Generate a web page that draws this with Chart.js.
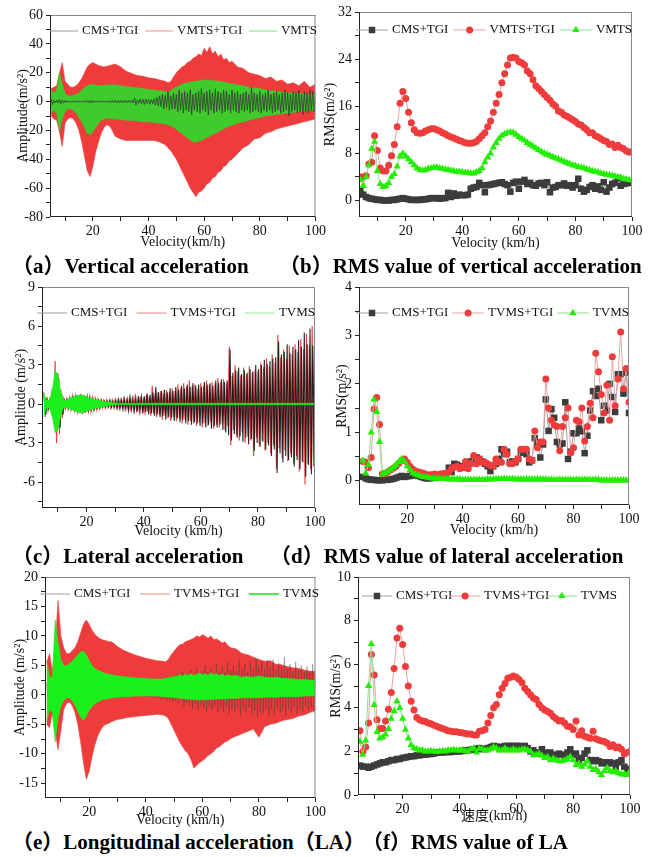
<!DOCTYPE html>
<html>
<head>
<meta charset="utf-8">
<script src="https://cdn.jsdelivr.net/npm/chart.js@4.4.0/dist/chart.umd.min.js"></script>
<style>
body{margin:0;background:#fff;width:656px;height:857px;position:relative;overflow:hidden}
canvas{position:absolute}
.cap{position:absolute;font:bold 21px 'Liberation Serif','Noto Sans CJK SC',serif;white-space:nowrap;color:#000;line-height:24px}
</style>
</head>
<body>
<canvas id="ca" width="328" height="252" style="left:0;top:0"></canvas>
<canvas id="cb" width="338" height="252" style="left:318px;top:0"></canvas>
<canvas id="cc" width="328" height="270" style="left:0;top:275px"></canvas>
<canvas id="cd" width="338" height="270" style="left:318px;top:275px"></canvas>
<canvas id="ce" width="328" height="265" style="left:0;top:565px"></canvas>
<canvas id="cf" width="338" height="265" style="left:318px;top:565px"></canvas>
<div class="cap" style="left:12px;top:254px">（a）Vertical acceleration</div>
<div class="cap" style="left:279px;top:254px">（b）RMS value of vertical acceleration</div>
<div class="cap" style="left:12px;top:544px">（c）Lateral acceleration</div>
<div class="cap" style="left:270px;top:544px">（d）RMS value of lateral acceleration</div>
<div class="cap" style="left:12px;top:830px">（e）Longitudinal acceleration（LA）</div>
<div class="cap" style="left:362px;top:830px">（f）RMS value of LA</div>
<script>
// series names
var seriesV = ["CMS+TGI", "VMTS+TGI", "VMTS"];
var seriesT = ["CMS+TGI", "TVMS+TGI", "TVMS"];

// velocity grids (km/h)
var speeds = [4,5,6,7,8,9,10,11,12,13,14,15,16,17,18,19,20,21,22,23,24,25,26,27,28,29,30,31,32,33,34,35,36,37,38,39,40,41,42,43,44,45,46,47,48,49,50,51,52,53,54,55,56,57,58,59,60,61,62,63,64,65,66,67,68,69,70,71,72,73,74,75,76,77,78,79,80,81,82,83,84,85,86,87,88,89,90,91,92,93,94,95,96,97,98,99,100];
var speeds5 = speeds.slice(1);
var bandSpeed = [5,6,7,8,9,10,11,12,13,14,15,16,17,18,19,20,21,22,23,24,25,26,27,28,
  30,32,34,36,38,40,42,44,46,
  47,48,49,50,51,52,53,54,55,56,57,58,59,60,61,62,63,64,65,66,67,68,69,70,
  72,74,76,78,80,82,84,86,88,90,92,94,96,98,100];

// axis ticks
var xTicks = [10,20,30,40,50,60,70,80,90,100];
var xLabels = [20,40,60,80,100];
var aYTicks = [-80,-70,-60,-50,-40,-30,-20,-10,0,10,20,30,40,50,60];
var aYLabels = [-80,-60,-40,-20,0,20,40,60];
var bYTicks = [0,4,8,12,16,20,24,28,32];
var bYLabels = [0,8,16,24,32];
var cYTicks = [-7.5,-6,-4.5,-3,-1.5,0,1.5,3,4.5,6,7.5,9];
var cYLabels = [-6,-3,0,3,6,9];
var dYTicks = [0,0.5,1,1.5,2,2.5,3,3.5,4];
var dYLabels = [0,1,2,3,4];
var eYTicks = [-15,-12.5,-10,-7.5,-5,-2.5,0,2.5,5,7.5,10,12.5,15,17.5,20];
var eYLabels = [-15,-10,-5,0,5,10,15,20];
var fYTicks = [0,1,2,3,4,5,6,7,8,9,10];
var fYLabels = [0,2,4,6,8,10];

// (a) vertical acceleration envelopes
var aRedHi = [9,10,11,20,27,14,12,10,10,11,13,16,20,24,26,27,26,25,24.5,24,24.5,25,25.5,26,
  24,21,19.5,18,17.5,16.5,16,15,14,
  13,14,17,20,22,24,25,27,28,30,31,33,32,37,34,38,33,35,31,33,29,30,27,28,
  24,23,20,19,18,16,17,14,15,12,13,11,14,10,12];
var aRedLo = [-10,-12,-13,-21,-31,-15,-12,-11,-12,-15,-20,-28,-38,-48,-52,-45,-35,-28,-22,-18,-16,-17,-20,-24,
  -26,-27,-27,-27,-27,-27,-27,-28,-30,
  -32,-34,-37,-40,-44,-48,-52,-56,-60,-63,-66,-63,-62,-60,-57,-56,-53,-52,-49,-48,-45,-44,-41,-40,
  -36,-32,-30,-26,-25,-22,-21,-19,-18,-17,-16,-15,-14,-13,-12];
var aGreenHi = [8,6,8,20,12,6,4,4,4.5,5,6,8,9.5,11,11.5,12,11.5,11,11,11,11.5,11.5,11.5,11.5,
  11,10.5,10,9.5,9,8.5,8,7.5,7,
  6.5,7.5,9,10,11,12,12.5,13,13.5,14,14,14.5,14.5,15,15,15,14.5,14.5,14,14,13.5,13,12.5,12.5,
  11.5,11,10,9.5,9,8,7.5,7,6.5,6,6,5.5,5.5,5,5];
var aGreenLo = [-8,-6,-8,-20,-12,-7,-5,-5,-6,-8,-11,-14,-18,-22,-23,-21,-18,-15,-13,-12,-11.5,-11.5,-12,-12,
  -12.5,-13,-13,-13.5,-14,-14,-14.5,-15,-15.5,
  -16,-17,-18,-19,-21,-22,-24,-25,-26.5,-28,-28,-27.5,-27,-26,-25,-24,-23,-22,-21,-20,-19,-18,-17,-16.5,
  -15,-14,-13,-12,-11,-10,-9.5,-9,-8.5,-8,-7.5,-7,-6.5,-6,-6];
var aGrayHi = [2,1,1,1.5,1,0.8,0.5,0.5,0.5,0.5, 0.5,0.5,0.6,0.7,0.8,0.7,0.5,0.5,0.5,0.5,
  0.5,0.6,0.7,0.8,0.8,0.8,0.7,0.7,0.8,1, 2.5,1.2,1.8,1.5,1.7,1.5,1.5,2,3,4,
  5,4.5,7,4,6,5,8,6,7,6, 8,5,6,7,9,6,7,8,6,9, 7,6,8,7,5,8,6,7,5,6,
  7,5,10,6,5,7,5,6,8,5, 6,7,5,6,8,6,5,7,6,8, 5,7,6,8,7,6];
var aGrayLo = [-2,-1,-1,-1.5,-1,-0.8,-0.5,-0.5,-0.5,-0.5, -0.5,-0.5,-0.6,-0.7,-0.8,-0.7,-0.5,-0.5,-0.5,-0.5,
  -0.5,-0.6,-0.7,-0.8,-0.8,-0.8,-0.7,-0.7,-0.8,-1, -2.5,-1.2,-1.5,-2,-1.5,-1.8,-1.5,-2.5,-3,-3.5,
  -5,-4,-6,-5,-5,-7,-6,-8,-6,-7, -9,-6,-7,-8,-6,-7,-9,-6,-8,-7, -6,-8,-7,-6,-8,-6,-7,-8,-6,-7,
  -6,-8,-7,-6,-7,-8,-6,-7,-6,-8, -7,-6,-8,-7,-6,-10,-7,-6,-8,-7, -9,-7,-8,-6,-7,-5];

// (b) RMS of vertical acceleration
var bGray = [1.8,1.0,0.6,0.4,0.3,0.2,0.1,0.1,0.0,0.0, 0.0,0.1,0.1,0.2,0.3,0.4,0.3,0.2,0.1,0.1,
  0.1,0.1,0.2,0.2,0.3,0.4,0.4,0.4,0.3,0.4, 0.4,1.3,0.6,1.2,0.8,1.0,0.9,0.9,1.0,2.0,
  2.2,2.3,3.0,2.6,1.4,2.6,2.7,2.8,2.9,3.0, 3.1,2.8,2.6,1.5,3.0,3.2,2.0,3.2,3.5,2.8,
  3.0,2.6,2.5,2.9,3.0,2.6,3.1,1.4,2.2,2.3, 2.6,2.6,2.9,2.5,2.6,2.2,2.6,3.7,2.0,1.5,
  1.8,2.3,2.6,2.0,2.4,1.8,3.1,1.5,2.2,2.8, 3.0,3.8,2.5,2.8,2.9,3.2,3.0];
var bRed = [4.0,4.0,4.2,6.2,6.5,11.0,8.5,5.5,5.0,5.0, 6.0,7.6,9.5,12.5,16.5,18.5,17.3,15.0,13.2,12.0,
  11.5,11.4,11.5,11.8,12.0,12.2,12.2,12.0,11.8,11.5, 11.3,11.0,10.8,10.6,10.4,10.2,10.0,9.8,9.7,9.7,
  9.8,10.0,10.5,11.0,11.5,12.5,13.5,15.0,16.5,18.0, 20.0,21.5,23.0,24.2,24.3,24.2,23.6,23.4,23.0,22.0,
  21.5,20.5,19.5,19.0,18.5,18.0,17.5,17.0,16.4,16.0, 15.2,15.0,14.5,14.3,14.0,13.7,13.4,13.0,12.8,12.4,
  12.0,11.5,11.5,11.0,10.8,10.5,10.2,10.0,9.5,9.6, 9.0,9.4,9.0,8.8,8.4,8.2,8.3];
var bGreen = [3.5,2.5,4.0,6.0,8.8,10.0,5.0,2.8,2.3,2.5, 3.0,4.0,4.5,5.8,7.5,8.0,7.5,7.0,6.5,6.0,
  5.5,5.2,5.1,5.2,5.4,5.5,5.6,5.6,5.5,5.4, 5.3,5.2,5.1,5.0,4.9,4.9,4.8,4.7,4.7,4.6,
  4.6,4.8,5.0,5.5,6.5,7.3,8.0,9.0,9.8,10.5, 11.0,11.3,11.5,11.6,11.5,11.2,10.8,10.5,10.2,9.8,
  9.5,9.2,8.9,8.6,8.3,8.0,7.8,7.6,7.4,7.2, 7.0,6.8,6.6,6.4,6.2,6.0,5.9,5.7,5.6,5.5,
  5.3,5.2,5.0,4.9,4.8,4.6,4.5,4.4,4.3,4.2, 4.1,4.0,3.9,3.7,3.6,3.5,3.4];

// (c) lateral acceleration
var cRedHi = [0.9,0.5,0.3,1.2,3.3,2.4,1.1,0.35,0.35,0.45, 0.55,0.65,0.7,0.78,0.7,0.6,0.5,0.45,0.4,0.35,
  0.3,0.25,0.3,0.25,0.3,0.3,0.25,0.3,0.35,0.3, 0.45,0.4,0.5,0.4,0.6,0.5,0.7,0.6,1.4,0.8,
  0.9,1.0,0.8,1.1,0.9,1.2,1.0,1.5,1.2,1.6, 1.3,1.8,1.4,1.5,1.2,1.6,1.4,1.8,1.5,1.7,
  1.6,2.0,1.7,1.9,1.6,4.4,2.2,3.0,2.5,2.2, 2.8,2.3,2.9,2.4,2.6,2.5,3.2,2.8,3.5,2.9,
  3.8,3.2,5.3,3.6,4.2,3.5,4.5,3.8,4.6,4.0, 5.0,4.2,5.4,4.5,6.0,4.8];
var cRedLo = [-1.0,-0.5,-0.3,-1.2,-3.0,-2.3,-1.1,-0.35,-0.35,-0.4, -0.5,-0.6,-0.7,-0.78,-0.7,-0.6,-0.5,-0.45,-0.4,-0.35,
  -0.3,-0.3,-0.25,-0.3,-0.25,-0.3,-0.35,-0.3,-0.4,-0.35, -0.4,-0.5,-0.45,-0.6,-0.5,-0.8,-0.6,-0.9,-0.7,-1.0,
  -0.8,-1.2,-0.9,-1.1,-1.3,-1.0,-1.3,-1.1,-1.5,-1.2, -1.6,-1.3,-1.5,-1.7,-1.4,-1.8,-1.5,-1.7,-1.4,-1.9,
  -1.6,-1.8,-1.5,-2.0,-1.7,-3.2,-2.0,-2.4,-2.8,-2.2, -3.0,-2.5,-2.8,-4.0,-2.6,-3.2,-2.8,-3.6,-3.0,-3.8,
  -3.2,-5.0,-3.4,-4.2,-3.6,-4.4,-3.8,-4.6,-4.0,-5.2, -4.4,-6.2,-4.6,-5.0,-4.8,-3.6];
var cBlackHi = [0.6,0.3,0.3,0.8,2.4,2.0,0.8,0.25,0.3,0.35, 0.45,0.55,0.6,0.65,0.6,0.5,0.4,0.35,0.3,0.25,
  0.25,0.2,0.2,0.25,0.2,0.3,0.35,0.3,0.4,0.35, 0.5,0.4,0.45,0.6,0.5,0.6,0.8,0.7,0.9,1.3,
  0.9,1.0,1.1,0.9,1.2,1.0,1.3,1.1,1.4,1.2, 1.5,1.3,1.6,1.4,1.5,1.3,1.7,1.5,1.6,1.4,
  1.8,1.6,1.9,1.7,1.8,4.2,2.4,2.6,2.8,2.3, 2.6,2.4,2.7,2.5,3.0,2.7,3.0,3.4,3.1,3.3,
  3.5,3.6,4.8,3.8,4.0,4.6,3.9,4.4,4.2,4.9, 4.4,5.5,4.6,5.8,4.5,5.0];
var cBlackLo = [-0.8,-0.3,-0.3,-0.8,-2.0,-1.8,-0.8,-0.25,-0.3,-0.3, -0.4,-0.5,-0.55,-0.65,-0.6,-0.5,-0.4,-0.35,-0.3,-0.25,
  -0.2,-0.2,-0.2,-0.25,-0.25,-0.3,-0.3,-0.4,-0.35,-0.5, -0.4,-0.5,-0.6,-0.5,-0.7,-0.6,-0.8,-0.7,-0.9,-0.8,
  -1.0,-0.9,-1.2,-1.0,-1.1,-1.3,-1.1,-1.4,-1.2,-1.5, -1.3,-1.6,-1.4,-1.5,-1.7,-1.5,-1.8,-1.6,-1.9,-1.7,
  -1.8,-1.6,-2.0,-2.2,-2.4,-2.8,-2.3,-2.6,-2.5,-2.9, -2.6,-3.1,-2.7,-3.6,-3.0,-3.3,-2.9,-3.5,-3.2,-4.0,
  -3.5,-5.3,-3.8,-4.5,-4.0,-4.3,-4.1,-4.8,-4.3,-5.0, -4.5,-5.6,-4.7,-5.4,-4.2,-3.5];
var cGreenSpeed = [5,6,7,8,9,10,11,12,13,14,15,16,17,18,19,20,21,22,23,24,25,26,27,28,29,30,31,100];
var cGreenHi = [0.8,0.3,0.3,1.0,2.6,2.2,0.9,0.25,0.3,0.4, 0.5,0.6,0.65,0.7,0.65,0.55,0.45,0.4,0.35,0.3,
  0.25,0.2,0.18,0.15,0.12,0.1,0.06,0.05];
var cGreenLo = [-1.0,-0.3,-0.3,-1.0,-2.2,-2.0,-0.9,-0.25,-0.3,-0.35, -0.45,-0.55,-0.6,-0.7,-0.65,-0.55,-0.45,-0.4,-0.35,-0.3,
  -0.25,-0.2,-0.15,-0.12,-0.1,-0.08,-0.06,-0.05];

// (d) RMS of lateral acceleration
var dGray = [0.08,0.05,0.03,0.02,0.02,0.01,0.01,0.01,0.02,0.02, 0.03,0.04,0.06,0.08,0.1,0.08,0.09,0.1,0.12,0.11,
  0.1,0.08,0.06,0.05,0.05,0.06,0.06,0.08,0.1,0.12, 0.15,0.27,0.18,0.35,0.33,0.3,0.3,0.27,0.35,0.4,
  0.45,0.48,0.45,0.4,0.35,0.3,0.2,0.3,0.35,0.45, 0.65,0.55,0.6,0.38,0.4,0.38,0.45,0.58,0.6,0.55,
  0.38,0.42,0.88,0.75,0.48,0.75,1.68,1.03,1.48,1.3, 0.8,0.75,0.77,1.62,0.45,0.6,0.98,0.98,1.08,1.02,
  0.57,0.93,1.45,1.85,1.75,1.9,1.25,1.55,1.45,2.0, 1.73,1.42,2.2,2.2,1.8,2.23,1.4];
var dRed = [0.4,0.38,0.27,0.48,1.48,1.72,1.16,0.14,0.15,0.18, 0.22,0.26,0.3,0.36,0.42,0.45,0.38,0.3,0.24,0.2,
  0.18,0.17,0.15,0.13,0.12,0.13,0.14,0.12,0.14,0.15, 0.15,0.18,0.25,0.28,0.3,0.25,0.28,0.4,0.25,0.35,
  0.52,0.35,0.45,0.38,0.38,0.35,0.32,0.3,0.45,0.38, 0.38,0.65,0.55,0.35,0.35,0.4,0.45,0.65,0.65,0.65,
  0.45,0.42,1.03,0.68,0.8,0.8,2.1,1.5,1.25,1.15, 1.12,0.62,1.12,1.3,1.5,0.58,0.68,1.25,1.22,1.5,
  0.82,1.12,1.6,1.3,2.63,2.25,1.78,1.4,1.97,1.25, 2.56,1.55,2.1,3.07,1.9,2.32,1.62];
var dGreen = [0.42,0.15,0.33,1.0,1.68,1.42,0.8,0.13,0.16,0.19, 0.23,0.28,0.33,0.39,0.45,0.4,0.3,0.22,0.16,0.13,
  0.11,0.09,0.08,0.07,0.06,0.05,0.05,0.05,0.04,0.04, 0.04,0.03,0.03,0.03,0.03,0.03,0.02,0.02,0.02,0.02,
  0.02,0.02,0.02,0.02,0.02,0.03,0.03,0.03,0.04,0.04, 0.04,0.04,0.04,0.04,0.04,0.03,0.03,0.03,0.03,0.03,
  0.03,0.03,0.03,0.03,0.03,0.03,0.03,0.02,0.02,0.02, 0.02,0.02,0.02,0.02,0.02,0.02,0.02,0.02,0.02,0.02,
  0.02,0.02,0.02,0.02,0.02,0.02,0.01,0.01,0.01,0.01, 0.01,0.01,0.01,0.01,0.01,0.01,0.01];

// (e) longitudinal acceleration
var eRedHi = [5.5,7,4,8,16,10,8,7,7,7.5,8,9,10.5,12,12.7,12,11,10.3,9.8,9.5,9.3,9.2,9,9,
  8.2,7.6,7.2,6.8,6.5,6.2,6,5.8,5.7,
  5.6,6,6.8,7.4,8,8.5,8.6,9,9.2,9.4,9.6,10,9.8,10.2,10,9.6,10,9.4,9.5,9.2,8.8,9,8.4,8,
  7.8,7,6.8,6.4,6,5.7,5.8,5.2,5.1,4.8,4.6,4.5,4.2,4,4];
var eRedLo = [-5,-5.6,-3,-6,-9.3,-6,-2.5,-1.5,-1.2,-1.8,-3,-5,-8,-11.5,-14.3,-13,-10.5,-8.5,-7,-6,-5.3,-5,-4.8,-4.5,
  -4.2,-4,-3.8,-3.7,-3.6,-3.5,-3.4,-3.3,-3.4,
  -3.6,-4,-5,-6,-7,-8,-8.8,-9.5,-10,-11,-12.4,-12,-11.5,-11.2,-10.8,-10.3,-10,-9.6,-9,-8.8,-8.4,-8,-7.8,-7.4,
  -7,-6.6,-6.2,-5.8,-7.2,-5.4,-5,-4.8,-4.4,-4.2,-4,-3.6,-3.4,-3,-2.6];
var eGreenHi = [5.8,3,3,12.7,9,6,5,5,5.3,5.7,6.2,6.8,7.3,7.4,6.8,5.8,5,4.5,4.2,4,3.8,3.6,3.5,3.4,
  3.2,3.1,3,2.9,2.8,2.8,2.7,2.7,2.7,
  2.8,2.9,3,3.1,3.2,3.4,3.2,3.5,3.3,3.6,3.3,3.5,3.7,3.4,3.6,3.3,3.8,3.4,3.6,3.3,3.5,3.2,3.4,3.2,
  3.3,3,3.1,3,3.2,3,2.9,3,2.8,2.8,2.7,2.6,2.6,2.5,2.5];
var eGreenLo = [-4.5,-2.5,-3,-8,-4,-2,-1,-0.5,-0.5,-1,-1.8,-2.8,-3.8,-4.3,-3.6,-2.6,-2,-1.5,-1.2,-1,-0.8,-0.7,-0.6,-0.5,
  -0.4,-0.3,-0.3,-0.2,-0.2,-0.2,-0.2,-0.2,-0.3,
  -0.3,-0.4,-0.4,-0.5,-0.5,-0.6,-0.6,-0.7,-0.7,-0.8,-0.8,-0.8,-0.9,-0.8,-0.9,-0.8,-0.8,-0.8,-0.7,-0.7,-0.7,-0.7,-0.6,-0.6,
  -0.6,-0.5,-0.5,-0.5,-0.5,-0.4,-0.4,-0.4,-0.3,-0.3,-0.3,-0.3,-0.2,-0.2,-0.2];
var eGrayHi = [2,1.5,1.5,3,2.5,2,1.5,1.5,1.5,1.5, 1.6,1.7,1.8,1.8,1.8,1.7,1.6,1.6,1.5,1.5,
  1.5,1.5,1.5,1.5,1.5,1.5,1.5,1.5,1.5,1.5, 1.6,1.6,1.7,1.8,1.8,1.9,2,2,2.2,2.2,
  2.5,2.3,2.8,2.4,3,2.6, 3.5,2.8,4,3,3.6,4.2,3.2,4.5,3.5,4, 5,3.8,4.6,3.6,5.2,4,4.8,3.8,5.5,4.2,
  5,4,6,4.4,5.2,4,5.6,4.5,6.2,4.8, 5.6,4.4,5.8,4.6,6,4.2,5.4,4.8,6.4,4.4, 5.2,4,5.6,4.2,5,3.8,4.8,4,5.2,3.6];
var eGrayLo = [-1,-0.5,-0.5,-2,-1.5,-1,0,0,0,0, 0,0,-0.2,-0.5,-0.5,-0.3,0,0,0,0,
  0,0,0,0,0,0,0,0,0,0, 0,0,0,-0.2,-0.2,-0.3,-0.4,-0.4,-0.5,-0.5,
  -0.8,-0.6,-1,-0.8,-1.2,-1, -1.5,-1,-2,-1.4,-1.8,-2.4,-1.5,-2.6,-1.8,-2.2, -2.8,-2,-2.5,-1.8,-3,-2.2,-2.8,-2,-3.2,-2.4,
  -3,-2.2,-3.5,-2.5,-3,-2.2,-3.4,-2.6,-3.8,-3, -3.2,-2.4,-3.6,-2.6,-3.4,-2.4,-3,-2.6,-3.6,-2.4, -3,-2.2,-3.2,-2.4,-2.8,-2,-2.6,-2.2,-3,-1.8];

// (f) RMS of longitudinal acceleration
var fGray = [1.35,1.3,1.3,1.25,1.3,1.35,1.4,1.45,1.5,1.5, 1.55,1.6,1.6,1.65,1.65,1.7,1.72,1.75,1.78,1.78,
  1.82,1.82,1.85,1.85,1.88,1.88,1.9,1.95,1.95,1.95, 1.97,1.97,1.97,2.0,2.0,2.0,2.02,2.05,2.05,2.08,
  2.1,2.12,2.15,2.1,2.12,2.15,2.2,2.25,2.22,2.2, 2.2,2.25,2.25,2.25,2.25,2.25,2.25,2.2,2.25,2.15,
  2.0,2.05,1.95,1.9,2.1,1.95,1.9,1.95,1.8,1.85, 1.9,1.85,1.75,1.95,2.1,1.85,1.9,1.6,1.7,1.9,
  2.05,1.6,1.55,1.6,1.55,1.45,1.5,1.45,1.5,1.45, 1.3,1.5,1.6,1.3,1.2,1.15];
var fRed = [2.95,2.0,2.2,3.3,6.45,5.5,3.45,3.05,3.05,3.4, 3.93,4.7,5.8,7.2,7.65,6.9,5.9,5.0,4.3,3.9,
  3.55,3.45,3.4,3.37,3.3,3.27,3.2,3.15,3.1,3.05, 3.0,2.95,2.92,2.9,2.9,2.87,2.85,2.82,2.8,2.8,
  2.75,2.75,2.92,2.95,3.0,3.3,3.65,4.0,4.15,4.6, 4.9,5.12,5.35,5.4,5.46,5.4,5.3,5.15,4.9,4.75,
  4.6,4.45,4.38,4.15,4.0,3.9,3.83,3.75,3.6,3.5, 3.4,3.42,3.3,3.15,3.13,3.0,3.4,2.75,2.95,2.7,
  2.65,2.6,2.93,2.58,2.52,2.48,2.45,2.37,2.22,2.3, 2.17,2.2,2.1,1.88,1.95,2.0];
var fGreen = [2.45,1.85,2.5,5.0,6.93,4.13,2.9,2.6,2.65,2.78, 3.03,3.5,3.85,4.3,4.0,3.5,3.0,2.6,2.3,2.15,
  2.1,2.05,2.05,2.0,2.0,2.02,2.0,1.98,2.0,2.02, 2.0,2.05,2.05,2.08,2.05,2.05,2.05,2.02,2.0,2.1,
  2.15,1.95,2.15,2.1,2.05,2.05,2.1,2.2,2.15,2.05, 2.05,2.15,2.05,2.05,2.1,2.05,2.05,2.1,2.1,2.05,
  2.0,1.83,1.85,1.9,1.8,1.7,1.75,1.6,1.68,1.6, 1.55,1.55,1.6,1.65,1.76,1.6,1.38,1.45,1.3,1.4,
  1.55,1.3,1.15,1.2,1.05,0.92,1.1,1.24,1.1,1.05, 1.1,1.0,0.95,0.95,0.92,1.1];

var serif = "'Liberation Serif', 'Noto Sans CJK SC', serif";
var legends = {};

function band(xs, hi, lo, color) {
  return [
    {data: xs.map(function (x, i) { return {x: x, y: hi[i]}; }), borderColor: color, borderWidth: 0.6, pointRadius: 0, fill: false},
    {data: xs.map(function (x, i) { return {x: x, y: lo[i]}; }), borderColor: color, borderWidth: 0.6, pointRadius: 0, fill: "-1", backgroundColor: color}
  ];
}

// dense oscillation: swing between the upper and lower peaks read at each speed
function zig(xs, hi, lo, color, shift, width) {
  var pts = [];
  xs.forEach(function (x, i) {
    pts.push({x: x + shift, y: hi[i]});
    pts.push({x: x + shift + 0.5, y: lo[i]});
  });
  return {data: pts, borderColor: color, borderWidth: width, pointRadius: 0, fill: false};
}

function rms(xs, ys, line, color, style, r) {
  return {data: xs.map(function (x, i) { return {x: x, y: ys[i]}; }), borderColor: line, borderWidth: 1,
    pointStyle: style, pointRadius: r, pointBackgroundColor: color, pointBorderWidth: 0, fill: false};
}

var frame = {
  id: "frame",
  afterDatasetsDraw: function (chart) {
    var a = chart.chartArea, ctx = chart.ctx;
    ctx.save();
    ctx.lineWidth = 1;
    ctx.strokeStyle = "#888";
    ctx.beginPath();
    ctx.moveTo(a.left, a.top + 0.5); ctx.lineTo(a.right, a.top + 0.5);
    ctx.moveTo(a.right - 0.5, a.top); ctx.lineTo(a.right - 0.5, a.bottom);
    ctx.stroke();
    ctx.strokeStyle = "#222";
    ctx.beginPath();
    ctx.moveTo(a.left + 0.5, a.top); ctx.lineTo(a.left + 0.5, a.bottom);
    ctx.moveTo(a.left, a.bottom - 0.5); ctx.lineTo(a.right, a.bottom - 0.5);
    ctx.stroke();
    ctx.restore();
  }
};

var rowLegend = {
  id: "rowLegend",
  afterDatasetsDraw: function (chart) {
    var L = legends[chart.canvas.id];
    if (!L) return;
    var ctx = chart.ctx, a = chart.chartArea;
    ctx.save();
    ctx.font = "13px " + serif;
    var widths = L.items.map(function (it) { return L.line + L.gap + ctx.measureText(it.text).width; });
    var total = widths.reduce(function (s, w) { return s + w; }, 0);
    var space = (L.width - total) / (L.items.length - 1);
    var x = a.left + L.dx, y = a.top + L.dy;
    L.items.forEach(function (it, i) {
      ctx.strokeStyle = it.line;
      ctx.lineWidth = it.lw || 1;
      ctx.beginPath(); ctx.moveTo(x, y); ctx.lineTo(x + L.line, y); ctx.stroke();
      if (it.style) {
        ctx.fillStyle = it.color;
        Chart.helpers.drawPoint(ctx, {pointStyle: it.style, radius: it.r, rotation: 0, borderWidth: 0}, x + L.line / 2, y);
      }
      ctx.fillStyle = "#111";
      ctx.textBaseline = "middle";
      ctx.textAlign = "left";
      ctx.fillText(it.text, x + L.line + L.gap, y);
      x += widths[i] + space;
    });
    ctx.restore();
  }
};

function makeChart(id, p, datasets, items) {
  datasets.forEach(function (d, i) { d.order = datasets.length - i; d.tension = 0; });
  legends[id] = {items: items, dx: p.legend[0], dy: p.legend[1], width: p.legend[2], line: p.legend[3], gap: 4};
  var tickFont = {family: serif, size: 14};
  return new Chart(document.getElementById(id), {
    type: "line",
    data: {datasets: datasets},
    options: {
      animation: false,
      responsive: false,
      events: [],
      layout: {padding: {left: 0, top: p.T, right: p.W - p.R, bottom: 0}},
      plugins: {legend: {display: false}, tooltip: {enabled: false}},
      scales: {
        x: {
          type: "linear", min: p.xMin, max: 100,
          afterBuildTicks: function (s) { s.ticks = xTicks.map(function (v) { return {value: v}; }); },
          afterFit: function (s) { s.height = p.H - p.B; },
          ticks: {autoSkip: false, maxRotation: 0, padding: 2, color: "#111", font: tickFont,
            callback: function (v) { return xLabels.indexOf(v) >= 0 ? String(v) : ""; }},
          grid: {drawOnChartArea: false, tickLength: 4, color: "#222"},
          border: {display: false},
          title: {display: true, text: p.xTitle, color: "#111", font: tickFont, padding: {top: 0, bottom: p.xPad}}
        },
        y: {
          type: "linear", min: p.yMin, max: p.yMax,
          afterBuildTicks: function (s) { s.ticks = p.yTicks.map(function (v) { return {value: v}; }); },
          afterFit: function (s) { s.width = p.L; },
          ticks: {autoSkip: false, padding: 3, color: "#111", font: tickFont,
            callback: function (v) { return p.yLabels.indexOf(v) >= 0 ? String(v) : ""; }},
          grid: {drawOnChartArea: false, tickLength: 4, color: "#222"},
          border: {display: false},
          title: {display: true, text: p.yTitle, color: "#111", font: tickFont, padding: {top: p.yPad, bottom: 0}}
        }
      }
    },
    plugins: [frame, rowLegend]
  });
}

var RED = "#ee3c3c", GREEN_A = "#3fcb2b", GREEN = "#1cf01c";

// (a)
makeChart("ca", {W: 328, H: 252, L: 50, T: 15, R: 317, B: 217, xMin: 4.6, yMin: -80, yMax: 60,
    yTicks: aYTicks, yLabels: aYLabels, xTitle: "Velocity(km/h)", xPad: 1.6, yTitle: "Amplitude(m/s²)", yPad: 14.6,
    legend: [0, 16, 267, 28]},
  band(bandSpeed, aRedHi, aRedLo, RED)
    .concat(band(bandSpeed, aGreenHi, aGreenLo, GREEN_A))
    .concat([zig(speeds5, aGrayHi, aGrayLo, "rgba(55,55,55,0.8)", 0, 1)]),
  [{text: seriesV[0], line: "#9a9a9a"}, {text: seriesV[1], line: "#f08a8a"}, {text: seriesV[2], line: "#7ee07e"}]);

// (b)
makeChart("cb", {W: 338, H: 252, L: 41, T: 12, R: 314, B: 217, xMin: 3.5, yMin: -2.8, yMax: 32,
    yTicks: bYTicks, yLabels: bYLabels, xTitle: "Velocity (km/h)", xPad: 0.6, yTitle: "RMS(m/s²)", yPad: 3.6,
    legend: [-3, 18, 276, 32]},
  [rms(speeds, bGray, "#a0a0a0", "#3c3c3c", "rect", 4.6),
   rms(speeds, bRed, "#e9a3a3", RED, "circle", 3.5),
   rms(speeds, bGreen, "#8fe08f", "#22ee00", "triangle", 4.2)],
  [{text: seriesV[0], line: "#a0a0a0", color: "#3c3c3c", style: "rect", r: 4.6},
   {text: seriesV[1], line: "#e9a3a3", color: RED, style: "circle", r: 3.5},
   {text: seriesV[2], line: "#8fe08f", color: "#22ee00", style: "triangle", r: 4.2}]);

// (c)
makeChart("cc", {W: 328, H: 270, L: 42, T: 12, R: 315, B: 233, xMin: 4.4, yMin: -8, yMax: 9,
    yTicks: cYTicks, yLabels: cYLabels, xTitle: "Velocity (km/h)", xPad: 4.9, yTitle: "Amplitude (m/s²)", yPad: 13.3,
    legend: [-5, 26, 278, 30]},
  [zig(speeds5, cRedHi, cRedLo, "rgba(232,40,40,0.9)", 0, 1.1),
   zig(speeds5, cBlackHi, cBlackLo, "rgba(20,20,20,0.9)", 0.25, 1.1)]
    .concat(band(cGreenSpeed, cGreenHi, cGreenLo, GREEN)),
  [{text: seriesT[0], line: "#9a9a9a"}, {text: seriesT[1], line: "#f08080"}, {text: seriesT[2], line: "#8ef08e"}]);

// (d)
makeChart("cd", {W: 338, H: 270, L: 41, T: 12, R: 311, B: 230, xMin: 2.6, yMin: -0.5, yMax: 4,
    yTicks: dYTicks, yLabels: dYLabels, xTitle: "Velocity (km/h)", xPad: 6.6, yTitle: "RMS(m/s²)", yPad: 16.3,
    legend: [-3, 26, 273, 32]},
  [rms(speeds, dGray, "#a0a0a0", "#3c3c3c", "rect", 4.6),
   rms(speeds, dRed, "#e9a3a3", RED, "circle", 3.5),
   rms(speeds, dGreen, "#8fe08f", "#22ee00", "triangle", 4.2)],
  [{text: seriesT[0], line: "#a0a0a0", color: "#3c3c3c", style: "rect", r: 4.6},
   {text: seriesT[1], line: "#e9a3a3", color: RED, style: "circle", r: 3.5},
   {text: seriesT[2], line: "#8fe08f", color: "#22ee00", style: "triangle", r: 4.2}]);

// (e)
makeChart("ce", {W: 328, H: 265, L: 45, T: 12, R: 319, B: 233, xMin: 4.4, yMin: -17.5, yMax: 20,
    yTicks: eYTicks, yLabels: eYLabels, xTitle: "Velocity (km/h)", xPad: 1.6, yTitle: "Amplitude (m/s²)", yPad: 11.6,
    legend: [-5, 17, 279, 30]},
  band(bandSpeed, eRedHi, eRedLo, RED)
    .concat([zig(speeds5, eGrayHi, eGrayLo, "rgba(60,60,60,0.5)", 0, 0.7)])
    .concat(band(bandSpeed, eGreenHi, eGreenLo, GREEN)),
  [{text: seriesT[0], line: "#a0a0a0"}, {text: seriesT[1], line: "#f08a8a"}, {text: seriesT[2], line: "#19e619", lw: 1.6}]);

// (f)
makeChart("cf", {W: 338, H: 265, L: 40, T: 12, R: 312, B: 230, xMin: 4.3, yMin: 0, yMax: 10,
    yTicks: fYTicks, yLabels: fYLabels, xTitle: "速度(km/h)", xPad: 4.9, yTitle: "RMS(m/s²)", yPad: 9.6,
    legend: [4, 19, 255, 30]},
  [rms(speeds5, fGray, "#a0a0a0", "#3c3c3c", "rect", 4.6),
   rms(speeds5, fRed, "#e9a3a3", RED, "circle", 3.5),
   rms(speeds5, fGreen, "#8fe08f", "#22ee00", "triangle", 4.2)],
  [{text: seriesT[0], line: "#a0a0a0", color: "#3c3c3c", style: "rect", r: 4.6},
   {text: seriesT[1], line: "#e9a3a3", color: RED, style: "circle", r: 3.5},
   {text: seriesT[2], line: "#8fe08f", color: "#22ee00", style: "triangle", r: 4.2}]);
</script>
</body>
</html>
